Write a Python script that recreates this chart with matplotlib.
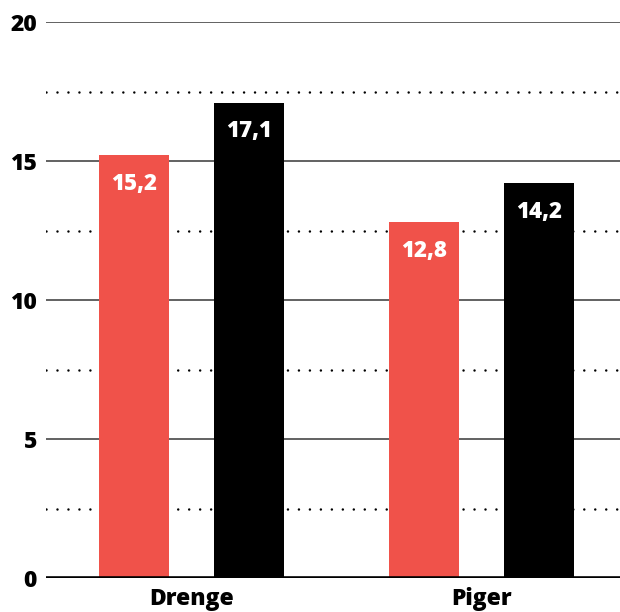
import matplotlib
matplotlib.use("Agg")
import matplotlib.pyplot as plt
import numpy as np

categories = ["Drenge", "Piger"]
series_red = [15.2, 12.8]
series_black = [17.1, 14.2]
labels_red = ["15,2", "12,8"]
labels_black = ["17,1", "14,2"]
yticks = [0, 5, 10, 15, 20]

plt.rcParams['font.family'] = ['Open Sans', 'DejaVu Sans']
FW = 800

fig = plt.figure(figsize=(6.2, 6.12), dpi=100)
ax = fig.add_axes([46/620, 34/612, 1 - 46/620, (578-22)/612])

x = np.arange(len(categories))
w = 0.241
off = 0.199
red = "#f0524a"
b1 = ax.bar(x - off, series_red, w, color=red, zorder=3)
b2 = ax.bar(x + off, series_black, w, color="black", zorder=3)

for bars, labs in ((b1, labels_red), (b2, labels_black)):
    for r, lab in zip(bars, labs):
        ax.annotate(lab, (r.get_x() + r.get_width()/2, r.get_height()),
                    xytext=(0, -20.5), textcoords="offset points",
                    ha="center", va="center", color="white",
                    fontsize=16, fontweight=FW, zorder=4)

ax.set_ylim(0, 20)
ax.set_xlim(-0.502, 1.478)
for y in [5, 10, 15, 20]:
    ax.axhline(y, color="#555555", lw=1.3, zorder=1)
for y in [2.5, 7.5, 12.5, 17.5]:
    ax.axhline(y, color="black", lw=1.8, linestyle=(0, (0.01, 4.38)),
               dash_capstyle="round", zorder=1)
ax.axhline(0, color="black", lw=2.6, zorder=4)

for s in ax.spines.values():
    s.set_visible(False)
ax.set_yticks(yticks)
ax.set_yticklabels([str(v) for v in yticks], fontsize=16.5, fontweight=FW)
ax.tick_params(axis="y", length=0, pad=6.5)
ax.set_xticks(x)
ax.set_xticklabels(categories, fontsize=16.5, fontweight=FW)
ax.tick_params(axis="x", length=0, pad=6.5)

fig.savefig("out.png", dpi=100)
